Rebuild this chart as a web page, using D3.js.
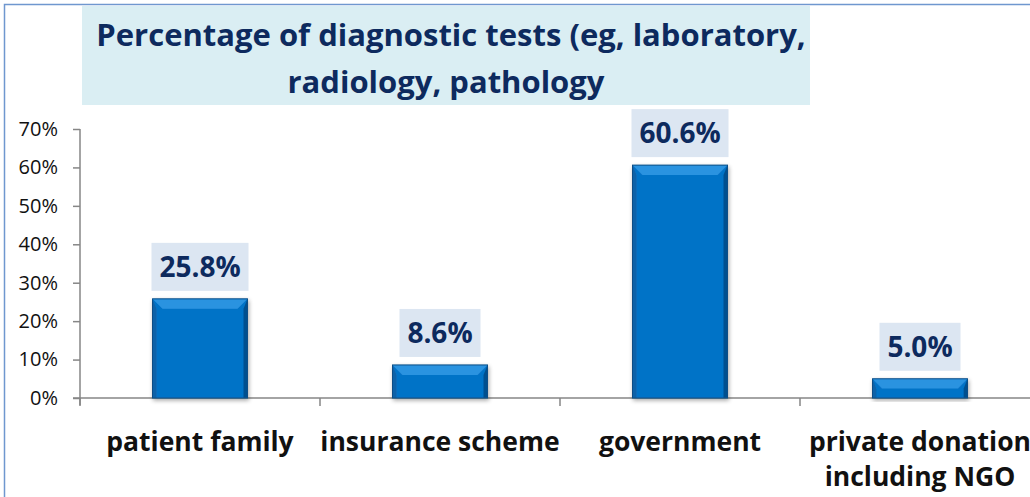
<!DOCTYPE html>
<html>
<head>
<meta charset="utf-8">
<script src="https://cdn.jsdelivr.net/npm/d3@7/dist/d3.min.js"></script>
<style>
  html, body { margin: 0; padding: 0; background: #fff; }
  svg { display: block; }
</style>
</head>
<body>
<svg id="chart" width="1030" height="497"></svg>
<script>
const categories = ["patient family", "insurance scheme", "government", "private donation|including NGO"];
const values = [25.8, 8.6, 60.6, 5.0];
const yTicks = [0, 10, 20, 30, 40, 50, 60, 70];
const titleLines = ["Percentage of diagnostic tests (eg, laboratory,", "radiology, pathology"];

const svg = d3.select("#chart");
const W = 1030, H = 497;
const font = "'Open Sans', 'Noto Sans', sans-serif";

// frame
svg.append("path")
  .attr("d", `M4.5,${H} L4.5,4.5 L${W},4.5`)
  .attr("fill", "none").attr("stroke", "#6f97cf").attr("stroke-width", 1.5);

// title block
svg.append("rect").attr("x", 82).attr("y", 6).attr("width", 728).attr("height", 99).attr("fill", "#daeef3");
svg.append("g").selectAll("text").data(titleLines).join("text")
  .attr("x", (d, i) => i === 0 ? 451 : 446)
  .attr("y", (d, i) => 46 + i * 47)
  .attr("text-anchor", "middle")
  .attr("font-family", font).attr("font-weight", 700).attr("font-size", 31)
  .attr("fill", "#0d2a5e")
  .text(d => d);

const x = d3.scaleBand().domain(categories).range([80, 1040]).paddingInner(0).paddingOuter(0);
const y = d3.scaleLinear().domain([0, 70]).range([398, 129]);
const barW = 95;

// y axis
const yAxis = svg.append("g").attr("transform", "translate(80,0)")
  .call(d3.axisLeft(y).tickValues(yTicks).tickSize(7).tickPadding(15).tickFormat(d => d + "%"));
yAxis.select(".domain").remove();
yAxis.selectAll(".tick line").attr("stroke", "#868686").attr("stroke-width", 1.5);
yAxis.selectAll(".tick text").attr("font-family", font).attr("font-size", 20).attr("fill", "#111");
svg.append("line").attr("x1", 80).attr("x2", 80).attr("y1", y(70)).attr("y2", 405)
  .attr("stroke", "#868686").attr("stroke-width", 1.5);

// x axis
svg.append("line").attr("x1", 73).attr("x2", W).attr("y1", y(0)).attr("y2", y(0))
  .attr("stroke", "#868686").attr("stroke-width", 1.5);
const bounds = categories.map(c => x(c)).concat([x(categories[3]) + x.bandwidth()]);
svg.append("g").selectAll("line").data(bounds).join("line")
  .attr("x1", d => d).attr("x2", d => d).attr("y1", y(0)).attr("y2", 406)
  .attr("stroke", "#868686").attr("stroke-width", 1.5);

// category labels
const catG = svg.append("g").selectAll("text").data(categories).join("text")
  .attr("x", d => x(d) + x.bandwidth() / 2)
  .attr("y", 451)
  .attr("text-anchor", "middle")
  .attr("font-family", font).attr("font-weight", 700).attr("font-size", 26.5)
  .attr("fill", "#111");
catG.each(function(d) {
  const parts = d.split("|");
  d3.select(this).selectAll("tspan").data(parts).join("tspan")
    .attr("x", x(d) + x.bandwidth() / 2)
    .attr("dy", (p, i) => i === 0 ? 0 : 35)
    .text(p => p);
});

// bars with bevel
const defs = svg.append("defs");
const sh = defs.append("filter").attr("id", "shadow").attr("x", "-20%").attr("y", "-20%").attr("width", "140%").attr("height", "140%");
sh.append("feGaussianBlur").attr("in", "SourceAlpha").attr("stdDeviation", 2);
sh.append("feOffset").attr("dx", 1).attr("dy", 2).attr("result", "b");
sh.append("feComponentTransfer").append("feFuncA").attr("type", "linear").attr("slope", 0.35);
const m = sh.append("feMerge"); m.append("feMergeNode"); m.append("feMergeNode").attr("in", "SourceGraphic");

const bars = svg.append("g").selectAll("g").data(categories).join("g").attr("filter", "url(#shadow)");
bars.each(function(c, i) {
  const g = d3.select(this);
  const x0 = x(c) + (x.bandwidth() - barW) / 2, x1 = x0 + barW;
  const t = y(values[i]), b = y(0);
  const bev = Math.min(10, (b - t) / 2);
  g.append("rect").attr("x", x0).attr("y", t).attr("width", barW).attr("height", b - t).attr("fill", "#0673c7");
  // top facet
  g.append("polygon").attr("points", [[x0, t], [x1, t], [x1 - bev, t + bev], [x0 + bev, t + bev]].join(" ")).attr("fill", "#2a93e0");
  // left facet
  g.append("polygon").attr("points", [[x0, t], [x0 + bev * 0.4, t + bev], [x0 + bev * 0.4, b], [x0, b]].join(" ")).attr("fill", "#0a62a8");
  // right facet
  g.append("polygon").attr("points", [[x1, t], [x1 - bev * 0.4, t + bev], [x1 - bev * 0.4, b], [x1, b]].join(" ")).attr("fill", "#04508f");
  g.append("rect").attr("x", x0).attr("y", t).attr("width", barW).attr("height", b - t)
    .attr("fill", "none").attr("stroke", "#0b4e86").attr("stroke-width", 1);
});

// value labels
const lab = svg.append("g").selectAll("g").data(categories).join("g");
lab.each(function(c, i) {
  const g = d3.select(this);
  const cx = x(c) + x.bandwidth() / 2;
  const txt = values[i].toFixed(1) + "%";
  const w = txt.length > 4 ? 97 : 81;
  const bot = y(values[i]) - 8;
  g.append("rect").attr("x", cx - w / 2).attr("y", bot - 48).attr("width", w).attr("height", 48).attr("fill", "#dce6f2");
  g.append("text").attr("x", cx).attr("y", bot - 14).attr("text-anchor", "middle")
    .attr("font-family", font).attr("font-weight", 700).attr("font-size", 28).attr("fill", "#0d2a5e")
    .text(txt);
});
</script>
</body>
</html>
